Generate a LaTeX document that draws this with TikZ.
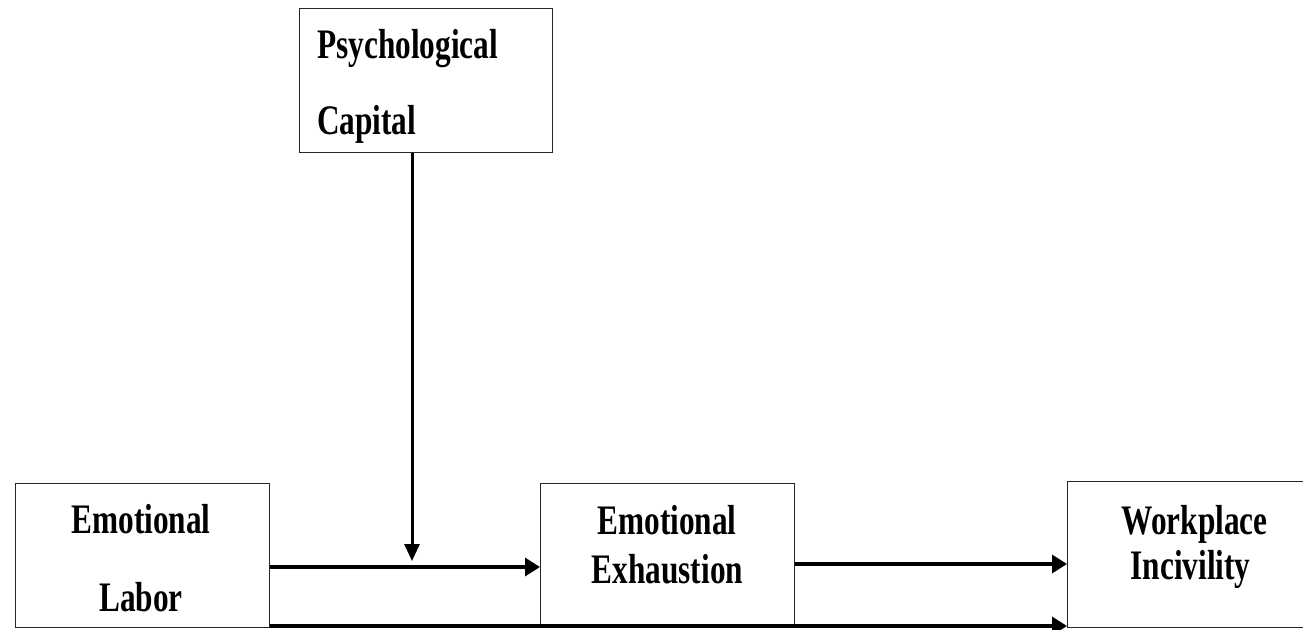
\documentclass[tikz,border=0pt]{standalone}
\usepackage{fontspec}
\setmainfont{Liberation Serif}[FakeStretch=0.745]
\usetikzlibrary{arrows.meta}
\begin{document}
\begin{tikzpicture}[x=1pt,y=-1pt,
  box/.style={draw=black!85,line width=1.2pt,anchor=north west,inner sep=0pt},
  lbl/.style={inner sep=0pt,font=\fontsize{42}{42}\selectfont\bfseries},
  arr/.style={line width=3.4pt,-{Triangle[length=15pt,width=18pt]}}]
\useasboundingbox (0,0) rectangle (1303,629);
% boxes
\node[box,minimum width=253pt,minimum height=144pt] (pc) at (299,8) {};
\node[box,minimum width=254pt,minimum height=144pt] (el) at (15,483) {};
\node[box,minimum width=254pt,minimum height=143pt] (ee) at (540,483) {};
\node[box,minimum width=250pt,minimum height=146pt] (wi) at (1067,481) {};
% texts
\node[lbl,anchor=base west] (pc1) at (317,58) {Psychological};
\node[lbl,anchor=base west] (pc2) at (317,134) {Capital};
\node[lbl,anchor=base] (el1) at (141,533) {Emotional};
\node[lbl,anchor=base] (el2) at (141,611) {Labor};
\node[lbl,anchor=base] (ee1) at (667,534) {Emotional};
\node[lbl,anchor=base] (ee2) at (667.5,583) {Exhaustion};
\node[lbl,anchor=base] (wi1) at (1194.5,534) {Workplace};
\node[lbl,anchor=base] (wi2) at (1190.5,579) {Incivility};
% connectors
\coordinate (m) at (412,561);
\draw[line width=3pt,-{Triangle[length=17pt,width=15pt]}] (pc.south -| m) -- (m);
\draw[arr] (el.east |- 0,567) -- (ee.west |- 0,567);
\draw[arr] (ee.east |- 0,564) -- (wi.west |- 0,564);
\draw[arr] (el.south east |- 0,626) -- (wi.west |- 0,626);
\end{tikzpicture}
\end{document}
